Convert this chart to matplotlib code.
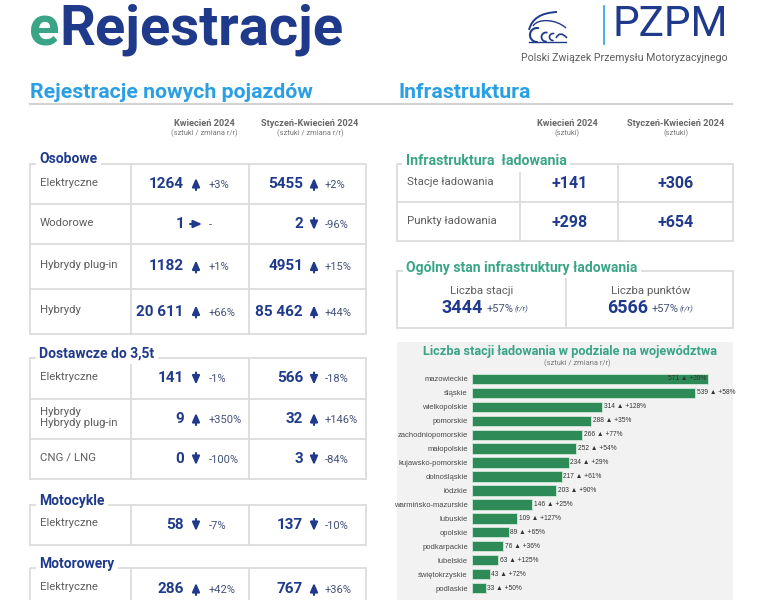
import matplotlib
matplotlib.use('Agg')
import matplotlib.pyplot as plt
import numpy as np
from matplotlib.patches import Rectangle, PathPatch
from matplotlib.path import Path

# ---------------- data ----------------
col_headers = ['Kwiecień 2024', 'Styczeń-Kwiecień 2024']
left_sub = '(sztuki / zmiana r/r)'
right_sub = '(sztuki)'

osobowe_labels = ['Elektryczne', 'Wodorowe', 'Hybrydy plug-in', 'Hybrydy']
osobowe_apr = [1264, 1, 1182, 20611]
osobowe_apr_chg = [3, None, 1, 66]
osobowe_ytd = [5455, 2, 4951, 85462]
osobowe_ytd_chg = [2, -96, 15, 44]

dost_labels = ['Elektryczne', 'Hybrydy\nHybrydy plug-in', 'CNG / LNG']
dost_apr = [141, 9, 0]
dost_apr_chg = [-1, 350, -100]
dost_ytd = [566, 32, 3]
dost_ytd_chg = [-18, 146, -84]

moto_labels = ['Elektryczne']
moto_apr = [58]
moto_apr_chg = [-7]
moto_ytd = [137]
moto_ytd_chg = [-10]

motorow_labels = ['Elektryczne']
motorow_apr = [286]
motorow_apr_chg = [42]
motorow_ytd = [767]
motorow_ytd_chg = [36]

infra_labels = ['Stacje ładowania', 'Punkty ładowania']
infra_apr = [141, 298]
infra_ytd = [306, 654]

stan_labels = ['Liczba stacji', 'Liczba punktów']
stan_values = [3444, 6566]
stan_chg = [57, 57]

woj = ['mazowieckie', 'śląskie', 'wielkopolskie', 'pomorskie', 'zachodniopomorskie',
       'małopolskie', 'kujawsko-pomorskie', 'dolnośląskie', 'łódzkie',
       'warmińsko-mazurskie', 'lubuskie', 'opolskie', 'podkarpackie', 'lubelskie',
       'świętokrzyskie', 'podlaskie']
woj_stacje = [571, 539, 314, 288, 266, 252, 234, 217, 203, 146, 109, 89, 76, 63, 43, 33]
woj_chg = [39, 58, 128, 35, 77, 54, 29, 61, 90, 25, 127, 65, 36, 125, 72, 50]

# ---------------- style ----------------
DARK = '#1f3a8a'
TEAL = '#3aa487'
LBLUE = '#2b9fe3'
GRAY = '#5e5e5e'
LINE = '#dcdcdc'
PCT = '#44527a'
F = ['Roboto', 'DejaVu Sans']
BF = ['Liberation Sans', 'DejaVu Sans']

fig = plt.figure(figsize=(7.64, 6.0), dpi=100)
ax = fig.add_axes([0, 0, 1, 1])
ax.set_xlim(0, 764)
ax.set_ylim(600, 0)
ax.axis('off')


def txt(x, y, s, size, color, weight='normal', ha='left', va='center', **kw):
    return ax.text(x, y, s, fontsize=size, color=color, fontweight=weight,
                   ha=ha, va=va, family=F, **kw)


def fmt(n):
    return f"{n:,}".replace(',', ' ') if n >= 10000 else str(n)


def arrow(x, y, kind):
    if kind == 'up':
        a, b = (x, y + 6), (x, y - 6)
    elif kind == 'down':
        a, b = (x, y - 6), (x, y + 6)
    else:
        a, b = (x - 6, y), (x + 6, y)
    ax.annotate('', xy=b, xytext=a,
                arrowprops=dict(arrowstyle='-|>,head_width=0.22,head_length=0.5',
                                color=DARK, lw=1.5, shrinkA=0, shrinkB=0))


def kind_of(c):
    if c is None:
        return 'flat'
    return 'up' if c > 0 else 'down'


def chg_text(c):
    return '-' if c is None else f"{c:+d}%"


# ---------------- header ----------------
t = txt(29, 30, 'e', 40.5, TEAL, 'bold')
fig.canvas.draw()
r = fig.canvas.get_renderer()
w = t.get_window_extent(r).width
txt(29 + w, 30, 'Rejestracje', 40.5, DARK, 'bold')

# logo
ax.plot([604, 604], [6, 44], color=LBLUE, lw=1.2)
txt(612, 25, 'PZPM', 30.5, DARK, 'normal')
txt(728, 58, 'Polski Związek Przemysłu Motoryzacyjnego', 7.7, GRAY, ha='right')


def arc(cx, cy, rad, a0, a1, lw=1.3):
    th = np.radians(np.linspace(a0, a1, 40))
    ax.plot(cx + rad * np.cos(th), cy - rad * np.sin(th), color=DARK, lw=lw,
            solid_capstyle='round')


roof = np.array([(529, 30), (533, 13), (557, 12)], float)
ax.add_patch(PathPatch(Path(roof, [Path.MOVETO, Path.CURVE3, Path.CURVE3]),
                       fill=False, edgecolor=DARK, lw=1.4))
roof2 = np.array([(533, 26), (538, 18), (556, 19), (566, 28)], float)
ax.add_patch(PathPatch(Path(roof2, [Path.MOVETO, Path.CURVE4, Path.CURVE4, Path.CURVE4]),
                       fill=False, edgecolor=DARK, lw=1.0))
arc(537, 35, 7, 80, 270, 1.5)
arc(546, 37, 4.5, 80, 270, 1.3)
arc(553, 37, 3.5, 80, 270, 1.2)
hood = np.array([(556, 38), (560, 30), (567, 38)], float)
ax.add_patch(PathPatch(Path(hood, [Path.MOVETO, Path.CURVE3, Path.CURVE3]),
                       fill=False, edgecolor=DARK, lw=1.2))
ax.plot([529, 566], [42, 42], color=DARK, lw=1.0)

txt(30, 92, 'Rejestracje nowych pojazdów', 15.3, LBLUE, 'bold')
txt(398, 92, 'Infrastruktura', 15.3, LBLUE, 'bold')
ax.plot([30, 732], [104, 104], color='#d3d3d3', lw=1.6)

for cx, h in zip([204, 310], col_headers):
    txt(cx, 123, h, 6.6, '#666666', 'bold', ha='center')
    txt(cx, 133, left_sub, 5.4, '#777777', ha='center')
for cx, h in zip([567, 676], col_headers):
    txt(cx, 123, h, 6.6, '#666666', 'bold', ha='center')
    txt(cx, 133, right_sub, 5.4, '#777777', ha='center')


# ---------------- left sections ----------------
def section(title, title_y, top, heights, labels, apr, apr_chg, ytd, ytd_chg):
    x0, x1, x2, x3 = 30, 131, 249, 366
    bnd = np.cumsum([top] + heights)
    bottom = bnd[-1]
    ax.add_patch(Rectangle((x0, top), x3 - x0, bottom - top, fill=False,
                           edgecolor=LINE, lw=1.3, zorder=1))
    for yb in bnd[1:-1]:
        ax.plot([x0, x3], [yb, yb], color=LINE, lw=1.3, zorder=1)
    for xv in (x1, x2):
        ax.plot([xv, xv], [top, bottom], color=LINE, lw=1.3, zorder=1)
    txt(39, title_y, title, 10, DARK, 'bold', zorder=5,
        bbox=dict(facecolor='white', edgecolor='none', pad=2.5))
    for i, lab in enumerate(labels):
        yc = (bnd[i] + bnd[i + 1]) / 2
        txt(40, yc - 1.5, lab, 8.2, GRAY, linespacing=1.2)
        for (vals, chg, xr, xa, xp) in ((apr, apr_chg, 184, 196, 209),
                                         (ytd, ytd_chg, 303, 314, 325)):
            txt(xr, yc, fmt(vals[i]), 11, DARK, 'bold', ha='right')
            arrow(xa, yc, kind_of(chg[i]))
            txt(xp, yc + 1, chg_text(chg[i]), 8, PCT)


section('Osobowe', 159, 164, [40, 40, 45, 45], osobowe_labels,
        osobowe_apr, osobowe_apr_chg, osobowe_ytd, osobowe_ytd_chg)
section('Dostawcze do 3,5t', 354, 358, [41, 40, 40], dost_labels,
        dost_apr, dost_apr_chg, dost_ytd, dost_ytd_chg)
section('Motocykle', 501, 505, [40], moto_labels,
        moto_apr, moto_apr_chg, moto_ytd, moto_ytd_chg)
section('Motorowery', 564, 568, [42], motorow_labels,
        motorow_apr, motorow_apr_chg, motorow_ytd, motorow_ytd_chg)

# ---------------- right: infrastructure ----------------
X0, X1, X2, X3 = 397, 520, 618, 733
top, mid, bot = 164, 202, 241
ax.add_patch(Rectangle((X0, top), X3 - X0, bot - top, fill=False, edgecolor=LINE, lw=1.3))
ax.plot([X0, X3], [mid, mid], color=LINE, lw=1.3)
for xv in (X1, X2):
    ax.plot([xv, xv], [top, bot], color=LINE, lw=1.3)
txt(406, 161, 'Infrastruktura  ładowania', 10.2, TEAL, 'bold', zorder=5,
    bbox=dict(facecolor='white', edgecolor='none', pad=2.5))
rows_y = [top, mid, bot]
for i, lab in enumerate(infra_labels):
    yc = (rows_y[i] + rows_y[i + 1]) / 2
    txt(407, yc - 1, lab, 8.2, GRAY)
    txt(570, yc + 1, f"+{infra_apr[i]}", 11.5, DARK, 'bold', ha='center')
    txt(676, yc + 1, f"+{infra_ytd[i]}", 11.5, DARK, 'bold', ha='center')

top2, bot2, xm = 271, 328, 566
ax.add_patch(Rectangle((X0, top2), X3 - X0, bot2 - top2, fill=False, edgecolor=LINE, lw=1.3))
ax.plot([xm, xm], [top2, bot2], color=LINE, lw=1.3)
txt(406, 268, 'Ogólny stan infrastruktury ładowania', 10, TEAL, 'bold', zorder=5,
    bbox=dict(facecolor='white', edgecolor='none', pad=2.5))
for i, (cx, xv, xp, xr) in enumerate(((482, 441, 487, 515), (651, 607, 652, 680))):
    txt(cx, 291, stan_labels[i], 8.2, GRAY, ha='center')
    txt(xv, 308, str(stan_values[i]), 13, DARK, 'bold')
    txt(xp, 309, f"{stan_chg[i]:+d}%", 8, PCT)
    txt(xr, 309.5, '(r/r)', 5.8, PCT, style='italic')

# ---------------- bar chart panel ----------------
ax.add_patch(Rectangle((397, 342), 336, 270, facecolor='#f2f2f2', edgecolor='none'))
txt(570, 351, 'Liczba stacji ładowania w podziale na województwa', 9.2, TEAL, 'bold', ha='center')
txt(577, 363, '(sztuki / zmiana r/r)', 5.4, '#777777', ha='center')

bx = fig.add_axes([472 / 764, 1 - 595 / 600, 261 / 764, 223 / 600])
bx.set_facecolor('none')
XMAX = 631
ypos = np.arange(len(woj))
bx.barh(ypos, woj_stacje, height=0.74, color='#2e8b57', edgecolor='#cfe9d8', linewidth=0.6)
bx.set_xlim(0, XMAX)
bx.set_ylim(len(woj) - 0.5, -0.5)
bx.set_yticks(ypos)
bx.set_yticklabels(woj, fontsize=5.5, color='#4a4a4a', family=BF)
bx.tick_params(axis='y', length=0, pad=3)
bx.set_xticks([])
for s in bx.spines.values():
    s.set_visible(False)
for i, (v, c) in enumerate(zip(woj_stacje, woj_chg)):
    lab = f"{v} ▲ {c:+d}%"
    if v + 90 > XMAX:
        bx.text(v - 4, i, lab, fontsize=4.8, color='#333333', ha='right', va='center', family=BF)
    else:
        bx.text(v + 4, i, lab, fontsize=4.8, color='#333333', ha='left', va='center', family=BF)

fig.savefig('out.png', dpi=100)
